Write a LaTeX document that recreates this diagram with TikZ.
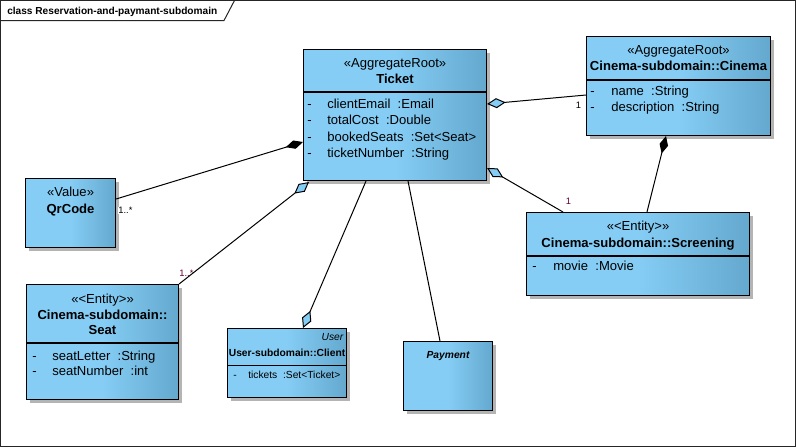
\documentclass[tikz,border=0pt]{standalone}
\usepackage{fontspec}
\setmainfont{Liberation Sans}
\usetikzlibrary{positioning}
\usetikzlibrary{calc}
\usetikzlibrary{shadows}
\usetikzlibrary{arrows.meta}
\definecolor{boxlight}{RGB}{133,205,245}
\definecolor{boxdark}{RGB}{100,168,206}
\definecolor{shadowgrey}{RGB}{180,180,180}
\definecolor{labelred}{RGB}{96,0,48}
\pgfdeclarehorizontalshading{class shading}{100bp}{
    color(0bp)=(boxlight); color(25bp)=(boxlight); color(50bp)=(boxlight);
    color(75bp)=(boxdark); color(100bp)=(boxdark)}
\tikzset{
    % Shaded class rectangle with a flat grey shadow
    class box/.style={
        draw, line width=0.8pt, inner sep=0, shading=class shading,
        drop shadow={shadow xshift=2.6pt, shadow yshift=-2.6pt,
            fill=shadowgrey, opacity=1}},
%
    % Compartment line inside a class
    divider/.style={line width=0.8pt},
%
    % Texts of the classes
    stereotype/.style={anchor=base, inner sep=0,
        font=\fontsize{9.8}{12}\selectfont},
    class name/.style={anchor=base, inner sep=0,
        font=\fontsize{9.8}{12}\selectfont\bfseries},
    attr text/.style={anchor=base west, inner sep=0,
        font=\fontsize{9.8}{12}\selectfont},
    small text/.style={inner sep=0, font=\fontsize{7.7}{9}\selectfont},
%
    % Diagram frame and its name tab
    frame line/.style={line width=0.75pt, black!85},
    title text/.style={anchor=base west, inner sep=0,
        font=\fontsize{7.6}{9}\selectfont\bfseries},
%
    % Associations
    connector/.style={line width=0.75pt, black},
    composition/.style={connector,
        -{Diamond[length=13.5pt, width=6.5pt, fill=black]}},
    aggregation/.style={connector,
        -{Diamond[length=14pt, width=7.5pt, fill=boxlight]}},
    mult label/.style={inner sep=0.5pt, font=\fontsize{7}{8}\selectfont}}

\begin{document}
\begin{tikzpicture}[x=0.75pt, y=-0.75pt]
\useasboundingbox (0,0) rectangle (796,447);

% Places an empty class box named #1 with top left corner (#2,#3),
% #4 wide and #5 high, in screen pixels
\newcommand{\umlclass}[5]{
\node [class box, anchor=north west,
    minimum width=#4*0.75pt, minimum height=#5*0.75pt] (#1) at (#2,#3) {};
}

% One attribute row named #1: dash at x #2, text #5 at x #3, baseline #4
\newcommand{\umlattr}[5]{
\node [attr text] (#1 dash) at (#2,#4) {-};
\node [attr text] (#1) at (#3,#4) {#5};
}

% Frame of the diagram
\draw [frame line] (0.5,0.5) rectangle (795.5,446.5);
\draw [frame line] (0.5,20.5) -- (224,20.5) -- (234.5,0.5);
\node [title text] (title) at (7,14) {class Reservation-and-paymant-subdomain};

% Ticket
\umlclass{ticket}{303}{49}{183}{131}
\draw [divider] ($(ticket.north west)+(0,43)$) -- ($(ticket.north east)+(0,43)$);
\node [stereotype] (ticket stereo) at ($(ticket.north)+(0,18)$) {«AggregateRoot»};
\node [class name] (ticket name) at ($(ticket.north)+(0,34)$) {Ticket};
\umlattr{ticket email}{307}{327}{108}{clientEmail\ \ :Email}
\umlattr{ticket cost}{307}{327}{124.5}{totalCost\ \ :Double}
\umlattr{ticket seats}{307}{327}{141}{bookedSeats\ \ :Set<Seat>}
\umlattr{ticket number}{307}{327}{157}{ticketNumber\ \ :String}

% Cinema
\umlclass{cinema}{586}{36}{184}{99}
\draw [divider] ($(cinema.north west)+(0,44)$) -- ($(cinema.north east)+(0,44)$);
\node [stereotype] (cinema stereo) at ($(cinema.north)+(0,18)$) {«AggregateRoot»};
\node [class name] (cinema name) at ($(cinema.north)+(0,34)$)
    {Cinema-subdomain::Cinema};
\umlattr{cinema title}{590}{611}{95}{name\ \ :String}
\umlattr{cinema text}{590}{611}{111}{description\ \ :String}

% QrCode
\umlclass{qrcode}{25}{178}{90}{69}
\node [stereotype] (qrcode stereo) at ($(qrcode.north)+(0,18.5)$) {«Value»};
\node [class name] (qrcode name) at ($(qrcode.north)+(0,35)$) {QrCode};

% Screening
\umlclass{screening}{526}{212}{223}{83}
\draw [divider] ($(screening.north west)+(0,44)$)
    -- ($(screening.north east)+(0,44)$);
\node [stereotype] (screening stereo) at ($(screening.north)+(0,18.7)$)
    {«<Entity>»};
\node [class name] (screening name) at ($(screening.north)+(0,35)$)
    {Cinema-subdomain::Screening};
\umlattr{screening movie}{532}{553}{270.7}{movie\ \ :Movie}

% Seat
\umlclass{seat}{26}{284}{152}{115}
\draw [divider] ($(seat.north west)+(0,59)$) -- ($(seat.north east)+(0,59)$);
\node [stereotype] (seat stereo) at ($(seat.north)+(0,19)$) {«<Entity>»};
\node [class name] (seat name) at ($(seat.north)+(0,35)$) {Cinema-subdomain::};
\node [class name] (seat name2) at ($(seat.north)+(0,50)$) {Seat};
\umlattr{seat letter}{32}{52}{360}{seatLetter\ \ :String}
\umlattr{seat number}{32}{52}{375}{seatNumber\ \ :int}

% Client
\umlclass{client}{227}{328}{119}{69}
\draw [divider] ($(client.north west)+(0,37.5)$)
    -- ($(client.north east)+(0,37.5)$);
\node [small text, anchor=base east, font=\fontsize{7.7}{9}\selectfont\itshape]
    (client stereo) at ($(client.north east)+(-3.5,12.7)$) {User};
\node [small text, anchor=base, font=\fontsize{7.7}{9}\selectfont\bfseries]
    (client name) at ($(client.north)+(0,28)$) {User-subdomain::Client};
\node [small text, anchor=base west] (client tickets dash) at (233,378) {-};
\node [small text, anchor=base west] (client tickets) at (248,378)
    {tickets\ \ :Set<Ticket>};

% Payment
\umlclass{payment}{403}{341}{89}{69}
\node [small text, anchor=base,
    font=\fontsize{7.7}{9}\selectfont\bfseries\itshape]
    (payment name) at ($(payment.north)+(0,17)$) {Payment};

% Associations
\draw [composition] ($(qrcode.north east)+(0,21)$)
    -- ($(ticket.north west)+(0,93)$);
\node [mult label, fill=white, anchor=west] (qrcode mult) at (117.5,210.5) {1..*};

\draw [aggregation] (seat.north east) -- ($(ticket.south west)+(6,1)$);
\node [mult label, labelred, anchor=west] (seat mult) at (178.5,273.5) {1..*};

\draw [aggregation] ($(cinema.north west)+(0,59)$)
    -- ($(ticket.north east)+(0,55)$);
\node [mult label] (cinema mult) at (578.5,105.5) {1};

\draw [aggregation] ($(screening.north west)+(37,0)$)
    -- ($(ticket.north east)+(0,119)$);
\node [mult label, labelred] (screening mult) at (568.5,201.5) {1};

\draw [composition] ($(screening.north west)+(121,0)$)
    -- ($(cinema.south west)+(80,0)$);

\draw [aggregation] ($(ticket.south west)+(63,0)$)
    -- ($(client.north west)+(76,0)$);

\draw [connector] ($(ticket.south west)+(105,0)$)
    -- ($(payment.north west)+(37,0)$);

\end{tikzpicture}
\end{document}
